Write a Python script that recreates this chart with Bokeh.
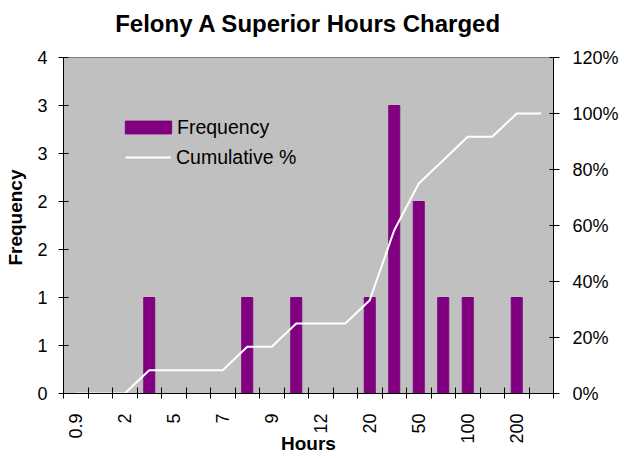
import math
from bokeh.plotting import figure
from bokeh.models import (Range1d, LinearAxis, FixedTicker, Legend, LegendItem,
                          ColumnDataSource, Title)
from bokeh.embed import file_html
from bokeh.resources import INLINE

# ---- data ----
bins = list(range(20))
frequency = [0, 0, 0, 1, 0, 0, 0, 1, 0, 1, 0, 0, 1, 3, 2, 1, 1, 0, 1, 0]
cumulative_pct = [0, 0, 0, 8.33, 8.33, 8.33, 8.33, 16.67, 16.67, 25, 25, 25,
                  33.33, 58.33, 75, 83.33, 91.67, 91.67, 100, 100]
x_tick_bins = [0, 2, 4, 6, 8, 10, 12, 14, 16, 18]
x_tick_labels = ["0.9", "2", "5", "7", "9", "12", "20", "50", "100", "200"]
y_ticks = [0, 0.5, 1, 1.5, 2, 2.5, 3, 3.5]
y_tick_labels = ["0", "1", "1", "2", "2", "3", "3", "4"]
pct_ticks = [0, 20, 40, 60, 80, 100, 120]
pct_tick_labels = ["0%", "20%", "40%", "60%", "80%", "100%", "120%"]

FONT = "Liberation Sans"
TICK_SIZE = "18px"
NBSP = "\u00a0"


def pad_label(s, width=6):
    # pad at the start so that the rotated labels all hang from the axis
    units = sum(1 if c == "." else 2 for c in s)
    return NBSP * max(0, width - units) + s


p = figure(frame_width=490, frame_height=336,
           min_border_left=63, min_border_top=57, min_border_right=40,
           min_border_bottom=40,
           x_range=Range1d(0, len(bins)), y_range=Range1d(0, 3.5),
           output_backend="svg", toolbar_location=None,
           background_fill_color="#C0C0C0", border_fill_color="white",
           outline_line_color="#808080")
p.extra_y_ranges = {"pct": Range1d(0, 120)}
p.grid.visible = False

src = ColumnDataSource(dict(x=[b + 0.5 for b in bins], freq=frequency,
                            cum=cumulative_pct))
bars = p.vbar(x="x", top="freq", width=0.45, source=src,
              fill_color="#800080", line_color="#800080")
line = p.line(x="x", y="cum", source=src, y_range_name="pct",
              line_color="white", line_width=2)

# title, lifted away from the frame by a blank spacer title
p.add_layout(Title(text=NBSP, text_font_size="10px", standoff=8), "above")
p.title.text = "Felony A Superior Hours Charged"
p.title.align = "center"
p.title.text_font = FONT
p.title.text_font_size = "24px"
p.title.text_font_style = "bold"
p.title.text_color = "black"
p.title.standoff = 0

# x axis
xa = p.xaxis[0]
xa.ticker = FixedTicker(ticks=[b + 0.5 for b in x_tick_bins],
                        minor_ticks=list(range(len(bins) + 1)))
xa.major_label_overrides = {b + 0.5: pad_label(l)
                            for b, l in zip(x_tick_bins, x_tick_labels)}
xa.major_tick_in = 0
xa.major_tick_out = 0
xa.minor_tick_in = 6
xa.minor_tick_out = 5
xa.minor_tick_line_color = "black"
xa.major_label_orientation = math.pi / 2
xa.major_label_standoff = 15
xa.major_label_text_font = FONT
xa.major_label_text_font_size = TICK_SIZE
xa.major_label_text_color = "black"
xa.axis_label = "Hours"
xa.axis_label_text_font = FONT
xa.axis_label_text_font_size = "19px"
xa.axis_label_text_font_style = "bold"
xa.axis_label_text_color = "black"
xa.axis_label_standoff = -14
xa.axis_line_color = "black"

# left axis
ya = p.yaxis[0]
ya.ticker = FixedTicker(ticks=y_ticks, minor_ticks=[])
ya.major_label_overrides = {t: l for t, l in zip(y_ticks, y_tick_labels)}
ya.major_tick_in = 5
ya.major_tick_out = 5
ya.major_label_standoff = 11
ya.major_label_text_font = FONT
ya.major_label_text_font_size = TICK_SIZE
ya.major_label_text_color = "black"
ya.axis_label = NBSP * 3 + "Frequency"
ya.axis_label_text_font = FONT
ya.axis_label_text_font_size = "19px"
ya.axis_label_text_font_style = "bold"
ya.axis_label_text_color = "black"
ya.axis_label_standoff = 8
ya.axis_line_color = "black"

# right axis
ra = LinearAxis(y_range_name="pct",
                ticker=FixedTicker(ticks=pct_ticks, minor_ticks=[]))
ra.major_label_overrides = {t: l for t, l in zip(pct_ticks, pct_tick_labels)}
ra.major_tick_in = 4
ra.major_tick_out = 6
ra.major_label_standoff = 13
ra.major_label_text_font = FONT
ra.major_label_text_font_size = TICK_SIZE
ra.major_label_text_color = "black"
ra.axis_line_color = "black"
p.add_layout(ra, "right")

common = dict(margin=0, padding=0, spacing=0, label_height=24,
              border_line_alpha=0, background_fill_alpha=0,
              label_text_font=FONT, label_text_font_size="19.5px",
              label_text_color="black")
legend_bar = Legend(items=[LegendItem(label="Frequency", renderers=[bars])],
                    location=(56, 254), glyph_width=58, glyph_height=16,
                    label_standoff=0, **common)
legend_line = Legend(items=[LegendItem(label="Cumulative %", renderers=[line])],
                     location=(62, 224), glyph_width=46, glyph_height=16,
                     label_standoff=5, **common)
p.add_layout(legend_bar)
p.add_layout(legend_line)

open("out.html", "w").write(file_html(p, INLINE))
